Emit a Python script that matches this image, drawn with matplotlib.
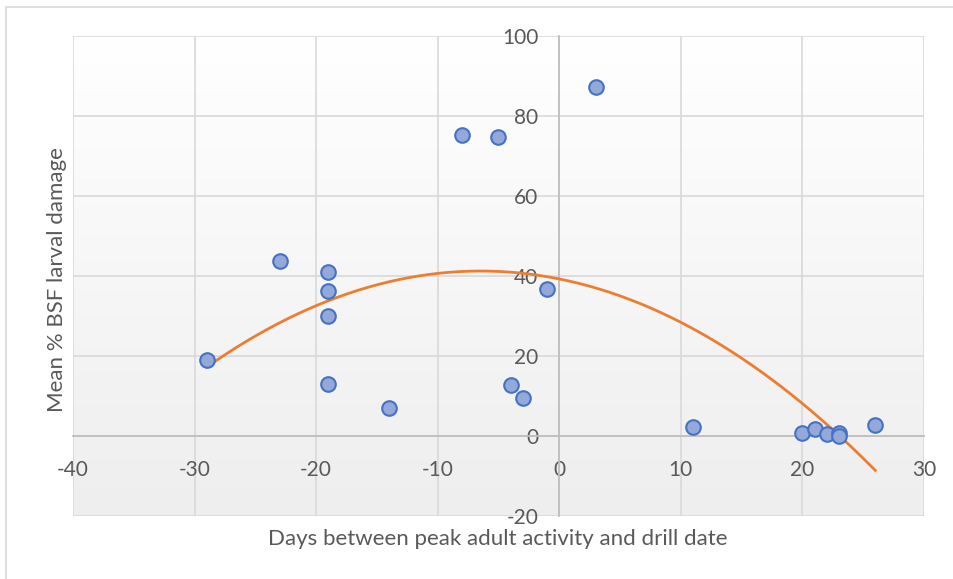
import numpy as np
import matplotlib.pyplot as plt
from matplotlib.patches import Rectangle

# days between peak adult activity and drill date vs mean % BSF larval damage
days = [-29, -23, -19, -19, -19, -19, -14, -8, -5, 3, -1, -4, -3,
        11, 20, 21, 22, 23, 23, 26]
damage = [19, 43.7, 41, 36.2, 30, 13, 7, 75.3, 74.8, 87.3, 36.7, 12.7, 9.5,
          2.3, 0.8, 1.8, 0.5, 0.8, 0.0, 2.8]

x_ticks = [-40, -30, -20, -10, 0, 10, 20, 30]
y_ticks = [-20, 0, 20, 40, 60, 80, 100]

plt.rcParams['font.family'] = ['Lato', 'DejaVu Sans']
plt.rcParams['axes.unicode_minus'] = False

fig = plt.figure(figsize=(9.54, 5.79), dpi=100)
W, H = 954, 579
ax = fig.add_axes([73 / W, 1 - 516 / H, (924 - 73) / W, (516 - 36) / H])

# light chart-area border
fig.patches.append(Rectangle((6 / W, -0.1), 1.2, 1.1 - 7 / H,
                             transform=fig.transFigure, fill=False,
                             edgecolor='#d9d9d9', linewidth=1.2))

ax.set_xlim(-40, 30)
ax.set_ylim(-20, 100)

# plot-area gradient: white at top to light grey at bottom
grad = np.linspace(0, 1, 256).reshape(-1, 1)
ax.imshow(grad, extent=(-40, 30, -20, 100), aspect='auto', origin='upper',
          cmap=plt.matplotlib.colors.LinearSegmentedColormap.from_list(
              'bg', ['#ffffff', '#eeeeee']), zorder=0)

ax.set_xticks(x_ticks)
ax.set_yticks(y_ticks)
ax.grid(True, color='#d9d9d9', linewidth=1.2, zorder=1)
ax.set_axisbelow(True)

for s in ['top', 'right']:
    ax.spines[s].set_visible(False)
ax.spines['left'].set_position(('data', 0))
ax.spines['bottom'].set_position(('data', 0))
for s in ['left', 'bottom']:
    ax.spines[s].set_color('#bfbfbf')
    ax.spines[s].set_linewidth(1.3)
    ax.spines[s].set_zorder(1.5)

ax.tick_params(axis='x', length=0, pad=17, labelsize=15, colors='#595959')
ax.tick_params(axis='y', length=0, pad=15, labelsize=15, colors='#595959')

# quadratic trendline
coef = np.polyfit(days, damage, 2)
xs = np.linspace(min(days), max(days), 200)
ax.plot(xs, np.polyval(coef, xs), color='#ED7D31', linewidth=2, zorder=3)

ax.scatter(days, damage, s=110, color='#94a8d9', edgecolor='#4472C4',
           linewidth=1.5, zorder=4)

fig.text(498 / W, 1 - 539 / H, 'Days between peak adult activity and drill date',
         ha='center', va='center', fontsize=16, color='#595959')
fig.text(57 / W, 1 - 280 / H, 'Mean % BSF larval damage', rotation=90,
         ha='center', va='center', fontsize=16, color='#595959')

fig.savefig('out.png', dpi=100)
